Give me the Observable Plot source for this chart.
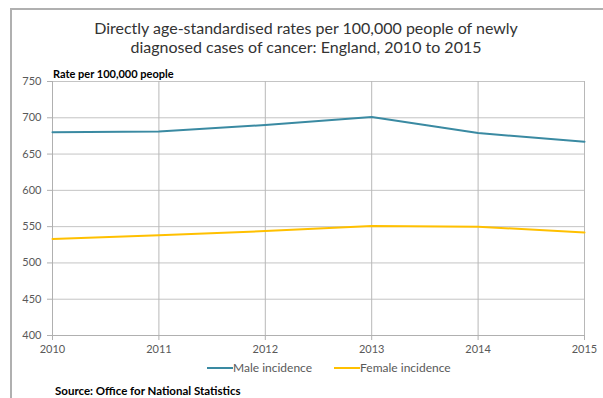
<!DOCTYPE html>
<html>
<head>
<meta charset="utf-8">
<script src="https://cdn.jsdelivr.net/npm/d3@7"></script>
<script src="https://cdn.jsdelivr.net/npm/@observablehq/plot@0.6"></script>
<style>
  html, body { margin: 0; padding: 0; background: #fff; }
  #wrap { position: relative; width: 603px; height: 398px; overflow: hidden; font-family: Lato, "Open Sans", sans-serif; }
  #frame { position: absolute; left: 10px; top: 8px; width: 700px; height: 500px; border-left: 2px solid #b0b0b0; border-top: 2px solid #b0b0b0; box-sizing: border-box; }
  #title { position: absolute; left: 0; width: 612px; top: 18px; text-align: center; font-size: 16px; line-height: 19px; color: #333; }
  #ytitle { position: absolute; left: 53px; top: 67px; font-size: 11px; font-weight: bold; color: #000; }
  #legend { position: absolute; top: 360px; left: 207px; font-size: 12px; color: #595959; display: flex; align-items: center; }
  .sw { display: inline-block; width: 26px; height: 2px; }
  #source { position: absolute; left: 55px; top: 384px; font-size: 11.5px; font-weight: bold; color: #000; }
  #chart { position: absolute; left: 0; top: 0; }
</style>
</head>
<body>
<div id="wrap">
  <div id="frame"></div>
  <div id="chart"></div>
  <div id="title">Directly age-standardised rates per 100,000 people of newly<br>diagnosed cases of cancer: England, 2010 to 2015</div>
  <div id="ytitle">Rate per 100,000 people</div>
  <div id="legend"></div>
  <div id="source">Source: Office for National Statistics</div>
</div>
<script>
const years = [2010, 2011, 2012, 2013, 2014, 2015];
const male = [680, 681, 690, 701, 679, 667];
const female = [533, 538, 544, 551, 550, 542];
const seriesNames = ["Male incidence", "Female incidence"];
const seriesColors = ["#3a8aa2", "#ffc000"];
const yTicks = [400, 450, 500, 550, 600, 650, 700, 750];

const rows = [];
years.forEach((y, i) => {
  rows.push({year: y, value: male[i], series: seriesNames[0]});
  rows.push({year: y, value: female[i], series: seriesNames[1]});
});

const chart = Plot.plot({
  width: 603,
  height: 398,
  marginLeft: 52,
  marginRight: 19,
  marginTop: 81,
  marginBottom: 63,
  style: {fontFamily: "Lato, 'Open Sans', sans-serif", fontSize: "11px", color: "#595959", background: "transparent"},
  x: {domain: [2010, 2015], ticks: years, tickFormat: d => String(d), tickSize: 5, tickPadding: 5, label: null},
  y: {domain: [400, 750], ticks: yTicks, tickSize: 5, tickPadding: 6, label: null},
  color: {domain: seriesNames, range: seriesColors},
  marks: [
    Plot.gridY(yTicks, {stroke: "#c4c4c4", strokeOpacity: 1, strokeWidth: 1}),
    Plot.gridX(years, {stroke: "#b8b8b8", strokeOpacity: 1, strokeWidth: 1}),
    Plot.axisY({ticks: yTicks, tickSize: 5, tickPadding: 6, stroke: "#b0b0b0", fill: "#595959", label: null}),
    Plot.axisX({ticks: years, tickFormat: d => String(d), tickSize: 5, tickPadding: 5, stroke: "#b0b0b0", fill: "#595959", label: null}),
    Plot.ruleY([400], {stroke: "#b0b0b0"}),
    Plot.ruleX([2010], {stroke: "#b0b0b0"}),
    Plot.line(rows, {x: "year", y: "value", z: "series", stroke: "series", strokeWidth: 2})
  ]
});
document.getElementById("chart").appendChild(chart);

const legend = document.getElementById("legend");
seriesNames.forEach((n, i) => {
  const sw = document.createElement("span");
  sw.className = "sw";
  sw.style.background = seriesColors[i];
  const t = document.createElement("span");
  t.textContent = n;
  t.style.marginRight = i === 0 ? "22px" : "0";
  legend.appendChild(sw);
  legend.appendChild(t);
});
</script>
</body>
</html>
